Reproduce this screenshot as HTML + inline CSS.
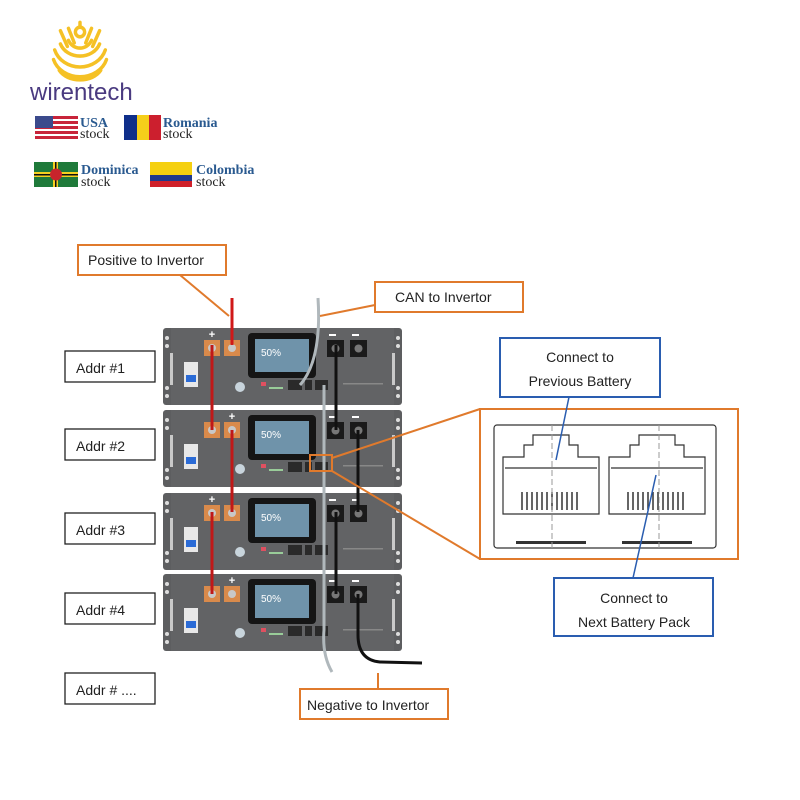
<!DOCTYPE html>
<html><head><meta charset="utf-8"><style>
body{margin:0;background:#fff;width:800px;height:800px;overflow:hidden}
svg{display:block}
.s{font-family:"Liberation Sans",sans-serif}
.f{font-family:"Liberation Serif",serif}
</style></head><body>
<svg width="800" height="800" viewBox="0 0 800 800" xmlns="http://www.w3.org/2000/svg">
<defs>
<g id="bat">
<rect x="0" y="0" width="239" height="77" rx="3" fill="#5d5e60"/>
<rect x="8" y="0" width="223" height="77" fill="#626365"/>
<circle cx="4" cy="10" r="2" fill="#ddd"/><circle cx="4" cy="18" r="2" fill="#ddd"/>
<circle cx="4" cy="60" r="2" fill="#ddd"/><circle cx="4" cy="68" r="2" fill="#ddd"/>
<circle cx="235" cy="10" r="2" fill="#ddd"/><circle cx="235" cy="18" r="2" fill="#ddd"/>
<circle cx="235" cy="60" r="2" fill="#ddd"/><circle cx="235" cy="68" r="2" fill="#ddd"/>
<rect x="7" y="25" width="3" height="32" fill="#c9c9c9"/>
<rect x="229" y="25" width="3" height="32" fill="#c9c9c9"/>
<rect x="21" y="34" width="14" height="25" fill="#e8e8e8"/>
<rect x="23" y="47" width="10" height="7" fill="#2b6bd6"/>
<rect x="41" y="12" width="16" height="16" fill="#d98a4b"/>
<circle cx="49" cy="20" r="4" fill="#c8c8c8"/>
<rect x="61" y="12" width="16" height="16" fill="#d98a4b"/>
<circle cx="69" cy="20" r="4" fill="#c8c8c8"/>
<rect x="85" y="5" width="68" height="45" rx="4" fill="#151515"/>
<rect x="92" y="11" width="54" height="33" fill="#6f93aa"/>
<text x="98" y="28" font-size="10" fill="#fff" class="s">50%</text>
<rect x="164" y="12" width="17" height="17" fill="#1a1a1a"/>
<circle cx="172.5" cy="20.5" r="4" fill="#777"/>
<rect x="187" y="12" width="17" height="17" fill="#1a1a1a"/>
<circle cx="195.5" cy="20.5" r="4" fill="#777"/>
<rect x="166" y="6" width="7" height="2" fill="#fff"/><rect x="189" y="6" width="7" height="2" fill="#fff"/>
<circle cx="77" cy="59" r="5" fill="#c8d4dc"/>
<rect x="98" y="54" width="5" height="4" fill="#e05060"/>
<rect x="106" y="59" width="14" height="2" fill="#9c9"/>
<rect x="125" y="52" width="14" height="10" fill="#2a2a2a"/>
<rect x="142" y="52" width="7" height="10" fill="#2a2a2a"/>
<rect x="152" y="52" width="13" height="10" fill="#2a2a2a"/>
<rect x="180" y="55" width="40" height="1.5" fill="#888"/>
</g>
</defs>

<!-- logo -->
<g fill="none" stroke="#f5c125" stroke-width="3" stroke-linecap="round" transform="translate(80,50) scale(1.15,1.2) translate(-80,-48)">
<circle cx="80" cy="33" r="4"/>
<path d="M70 40 A11 11 0 0 0 90 40"/>
<path d="M63 43 A18 15 0 0 0 97 43"/>
<path d="M58 48 A23 20 0 0 0 102 48"/>
<path d="M57 56 A24 20 0 0 0 103 56"/>
<path d="M62 65 A20 14 0 0 0 98 65"/>
<path d="M70 30 L75 42"/><path d="M90 30 L85 42"/>
<path d="M63 32 L69 45"/><path d="M97 32 L91 45"/>
<path d="M80 25 L80 28"/>
</g>
<text x="30" y="100" font-size="24" fill="#4a3a80" class="s">wirentech</text>

<!-- flags -->
<rect x="35" y="116" width="43" height="23" fill="#c8243a"/>
<g fill="#fff"><rect x="35" y="119" width="43" height="2"/><rect x="35" y="124" width="43" height="2"/><rect x="35" y="129" width="43" height="2"/><rect x="35" y="134" width="43" height="2"/></g>
<rect x="35" y="116" width="18" height="12" fill="#3b4a8c"/>
<text x="80" y="127" font-size="14" font-weight="bold" fill="#2a5a90" class="f">USA</text>
<text x="80" y="138" font-size="14" fill="#222" class="f">stock</text>
<rect x="124" y="115" width="13" height="25" fill="#0f2f8a"/><rect x="137" y="115" width="12" height="25" fill="#f5cf1a"/><rect x="149" y="115" width="12" height="25" fill="#cc1f2e"/>
<text x="163" y="127" font-size="14" font-weight="bold" fill="#2a5a90" class="f">Romania</text>
<text x="163" y="138" font-size="14" fill="#222" class="f">stock</text>
<rect x="34" y="162" width="44" height="25" fill="#1f7a3a"/>
<rect x="34" y="172" width="44" height="5" fill="#f5d020"/><rect x="53" y="162" width="5" height="25" fill="#f5d020"/>
<rect x="34" y="174" width="44" height="1.5" fill="#111"/><rect x="55" y="162" width="1.5" height="25" fill="#111"/>
<circle cx="56" cy="174.5" r="6" fill="#c8242c"/>
<text x="81" y="174" font-size="14" font-weight="bold" fill="#2a5a90" class="f">Dominica</text>
<text x="81" y="186" font-size="14" fill="#222" class="f">stock</text>
<rect x="150" y="162" width="42" height="13" fill="#f5d010"/><rect x="150" y="175" width="42" height="6" fill="#1f3a8c"/><rect x="150" y="181" width="42" height="6" fill="#d0202a"/>
<text x="196" y="174" font-size="14" font-weight="bold" fill="#2a5a90" class="f">Colombia</text>
<text x="196" y="186" font-size="14" fill="#222" class="f">stock</text>

<!-- batteries -->
<use href="#bat" x="163" y="328"/>
<use href="#bat" x="163" y="410"/>
<use href="#bat" x="163" y="493"/>
<use href="#bat" x="163" y="574"/>
<g fill="#fff" font-size="11" font-weight="bold" class="s" text-anchor="middle">
<text x="212" y="338">+</text><text x="232" y="420">+</text><text x="212" y="503">+</text><text x="232" y="584">+</text>
</g>

<!-- cables -->
<g stroke-width="3" fill="none">
<path d="M232 298 V345" stroke="#d01818"/>
<path d="M212 345 V430" stroke="#c01818"/>
<path d="M232 430 V512" stroke="#c01818"/>
<path d="M212 512 V594" stroke="#c01818"/>
<path d="M336 345 V430" stroke="#111"/>
<path d="M358 430 V512" stroke="#111"/>
<path d="M336 512 V594" stroke="#111"/>
<path d="M358 594 V635 Q358 660 380 662 L422 663" stroke="#111"/>
<path d="M318 298 Q322 360 300 385" stroke="#b0b8bc"/>
<path d="M324 385 V466" stroke="#b0b8bc"/>
<path d="M324 466 V548" stroke="#b0b8bc"/>
<path d="M324 548 V630 Q322 655 332 672" stroke="#b0b8bc"/>
</g>

<!-- Addr boxes -->
<g fill="#fff" stroke="#222" stroke-width="1.3">
<rect x="65" y="351" width="90" height="31"/>
<rect x="65" y="429" width="90" height="31"/>
<rect x="65" y="513" width="90" height="31"/>
<rect x="65" y="593" width="90" height="31"/>
<rect x="65" y="673" width="90" height="31"/>
</g>
<g font-size="14" fill="#222" class="s">
<text x="76" y="373">Addr #1</text>
<text x="76" y="451">Addr #2</text>
<text x="76" y="535">Addr #3</text>
<text x="76" y="615">Addr #4</text>
<text x="76" y="695">Addr # ....</text>
</g>

<!-- orange callouts -->
<g stroke="#e07a2c" stroke-width="2" fill="none">
<line x1="180" y1="275" x2="229" y2="316"/>
<line x1="375" y1="305" x2="320" y2="316"/>
<line x1="378" y1="673" x2="378" y2="690"/>
<rect x="310" y="455" width="22" height="16"/>
<line x1="332" y1="458" x2="480" y2="409"/>
<line x1="332" y1="471" x2="480" y2="559"/>
</g>
<g fill="#fff" stroke="#e07a2c" stroke-width="2">
<rect x="78" y="245" width="148" height="30"/>
<rect x="375" y="282" width="148" height="30"/>
<rect x="300" y="689" width="148" height="30"/>
<rect x="480" y="409" width="258" height="150"/>
</g>
<g font-size="14" fill="#222" class="s">
<text x="88" y="265">Positive to Invertor</text>
<text x="395" y="302">CAN to Invertor</text>
<text x="307" y="710">Negative to Invertor</text>
</g>

<!-- RJ45 drawing -->
<g fill="none" stroke="#333" stroke-width="1.2">
<rect x="494" y="425" width="222" height="123" rx="3"/>
<path d="M503 514 V457 H524 V445 H533 V435 H569 V445 H578 V457 H599 V514 Z"/>
<path d="M505 468 H597"/>
<path d="M609 514 V457 H630 V445 H639 V435 H675 V445 H684 V457 H705 V514 Z"/>
<path d="M611 468 H703"/>
</g>
<g fill="#333"><rect x="516" y="541" width="70" height="3"/><rect x="622" y="541" width="70" height="3"/></g>
<g stroke="#333" stroke-width="1.5">
<path d="M522 510 V492 M527 510 V492 M532 510 V492 M537 510 V492 M542 510 V492 M547 510 V492 M552 510 V492 M557 510 V492 M562 510 V492 M567 510 V492 M572 510 V492 M577 510 V492"/>
<path d="M628 510 V492 M633 510 V492 M638 510 V492 M643 510 V492 M648 510 V492 M653 510 V492 M658 510 V492 M663 510 V492 M668 510 V492 M673 510 V492 M678 510 V492 M683 510 V492"/>
</g>
<g stroke="#999" stroke-dasharray="6 3" stroke-width="1">
<line x1="552" y1="425" x2="552" y2="548"/><line x1="659" y1="425" x2="659" y2="548"/>
</g>
<!-- blue callouts -->
<g stroke="#2a5db0" stroke-width="1.5" fill="none">
<line x1="569" y1="397" x2="556" y2="460"/>
<line x1="656" y1="475" x2="633" y2="578"/>
</g>
<g fill="#fff" stroke="#2a5db0" stroke-width="2">
<rect x="500" y="338" width="160" height="59"/>
<rect x="554" y="578" width="159" height="58"/>
</g>
<g font-size="14" fill="#222" text-anchor="middle" class="s">
<text x="580" y="362">Connect to</text>
<text x="580" y="386">Previous Battery</text>
<text x="634" y="603">Connect to</text>
<text x="634" y="627">Next Battery Pack</text>
</g>
</svg>
</body></html>
